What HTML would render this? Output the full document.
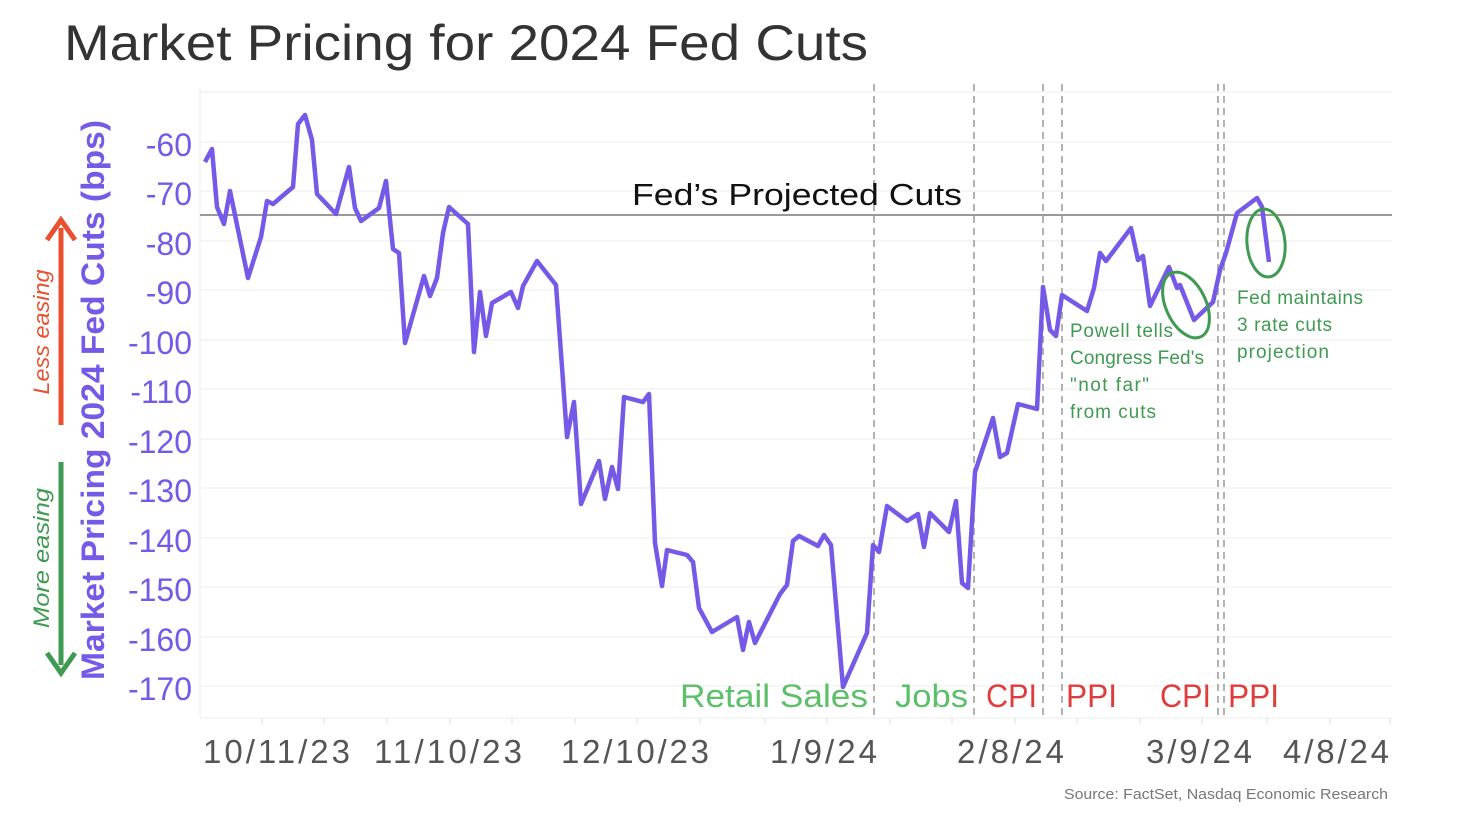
<!DOCTYPE html>
<html><head><meta charset="utf-8"><style>
body{margin:0;background:#fff;}
svg{display:block;font-family:"Liberation Sans",sans-serif;}
</style></head><body>
<svg width="1478" height="834" viewBox="0 0 1478 834">
<text x="64" y="60" font-size="50" fill="#333" textLength="804" lengthAdjust="spacingAndGlyphs">Market Pricing for 2024 Fed Cuts</text>
<g stroke="#f0f0f0" stroke-width="1.3">
<line x1="200" y1="92" x2="1392" y2="92"/><line x1="200" y1="142" x2="1392" y2="142"/><line x1="200" y1="191" x2="1392" y2="191"/><line x1="200" y1="241" x2="1392" y2="241"/><line x1="200" y1="290" x2="1392" y2="290"/><line x1="200" y1="340" x2="1392" y2="340"/><line x1="200" y1="389" x2="1392" y2="389"/><line x1="200" y1="439" x2="1392" y2="439"/><line x1="200" y1="488" x2="1392" y2="488"/><line x1="200" y1="538" x2="1392" y2="538"/><line x1="200" y1="587" x2="1392" y2="587"/><line x1="200" y1="637" x2="1392" y2="637"/><line x1="200" y1="686" x2="1392" y2="686"/><line x1="200" y1="718" x2="1392" y2="718"/>
<line x1="200" y1="88" x2="200" y2="718"/>
</g>
<g stroke="#ddd" stroke-width="1">
<line x1="262" y1="718" x2="262" y2="724"/><line x1="324" y1="718" x2="324" y2="724"/><line x1="387" y1="718" x2="387" y2="724"/><line x1="450" y1="718" x2="450" y2="724"/><line x1="512" y1="718" x2="512" y2="724"/><line x1="575" y1="718" x2="575" y2="724"/><line x1="637" y1="718" x2="637" y2="724"/><line x1="700" y1="718" x2="700" y2="724"/><line x1="765" y1="718" x2="765" y2="724"/><line x1="827" y1="718" x2="827" y2="724"/><line x1="890" y1="718" x2="890" y2="724"/><line x1="952" y1="718" x2="952" y2="724"/><line x1="1015" y1="718" x2="1015" y2="724"/><line x1="1077" y1="718" x2="1077" y2="724"/><line x1="1140" y1="718" x2="1140" y2="724"/><line x1="1202" y1="718" x2="1202" y2="724"/><line x1="1267" y1="718" x2="1267" y2="724"/><line x1="1330" y1="718" x2="1330" y2="724"/><line x1="1390" y1="718" x2="1390" y2="724"/>
</g>
<g stroke="#aaa" stroke-width="1.8" stroke-dasharray="7,5">
<line x1="874" y1="84" x2="874" y2="718"/><line x1="974" y1="84" x2="974" y2="718"/><line x1="1043" y1="84" x2="1043" y2="718"/><line x1="1062" y1="84" x2="1062" y2="718"/><line x1="1218" y1="84" x2="1218" y2="718"/><line x1="1224" y1="84" x2="1224" y2="718"/>
</g>
<line x1="200" y1="215" x2="1392" y2="215" stroke="#999" stroke-width="2"/>
<text x="632" y="205" font-size="31" fill="#111" textLength="330" lengthAdjust="spacingAndGlyphs">Fed’s Projected Cuts</text>
<polyline fill="none" stroke="#7659e6" stroke-width="4.5" stroke-linejoin="round" points="205,162 212,149 217,207 224,224 230,191 248,278 261,237 267,201 273,204 293,187 298,124 305,115 312,140 317,194 336,214 349,167 355,208 361,221 379,208 386,181 393,249 399,253 405,343 424,276 430,296 437,278 443,233 449,207 468,224 474,352 480,292 486,336 492,303 511,292 518,308 523,286 537,261 556,285 562,367 567,437 574,402 581,504 599,461 605,499 612,467 618,489 624,397 643,402 649,394 655,543 662,586 667,550 687,555 693,562 699,608 712,632 737,617 743,650 749,622 755,643 780,594 787,585 793,541 799,536 818,546 824,535 831,545 843,687 867,633 873,545 879,552 887,506 907,521 918,514 924,547 930,513 949,532 956,501 962,583 968,588 975,472 993,418 1000,457 1007,453 1018,404 1037,409 1043,287 1050,330 1056,336 1062,295 1087,311 1094,288 1100,253 1106,261 1131,228 1138,260 1143,256 1150,306 1169,267 1177,288 1180,285 1194,320 1213,302 1220,270 1226,253 1237,213 1257,198 1262,207 1269,262"/>
<ellipse cx="1186" cy="305" rx="20" ry="35" transform="rotate(-25 1186 305)" fill="none" stroke="#3f9a52" stroke-width="3"/>
<ellipse cx="1266" cy="243" rx="19" ry="34" transform="rotate(-5 1266 243)" fill="none" stroke="#3f9a52" stroke-width="3"/>
<g fill="#3f9a52" font-size="19" lengthAdjust="spacingAndGlyphs">
<text x="1070" y="337" textLength="103">Powell tells</text><text x="1070" y="364" textLength="134">Congress Fed's</text><text x="1070" y="391" textLength="79">"not far"</text><text x="1070" y="418" textLength="86">from cuts</text>
<text x="1237" y="304" textLength="126">Fed maintains</text><text x="1237" y="331" textLength="95">3 rate cuts</text><text x="1237" y="358" textLength="92">projection</text>
</g>
<g font-size="32">
<text x="680" y="707" fill="#5cbf6a" textLength="188" lengthAdjust="spacingAndGlyphs">Retail Sales</text>
<text x="895" y="707" fill="#5cbf6a" textLength="73" lengthAdjust="spacingAndGlyphs">Jobs</text>
<text x="986" y="707" fill="#e03c3c" textLength="51" lengthAdjust="spacingAndGlyphs">CPI</text>
<text x="1066" y="707" fill="#e03c3c" textLength="51" lengthAdjust="spacingAndGlyphs">PPI</text>
<text x="1160" y="707" fill="#e03c3c" textLength="51" lengthAdjust="spacingAndGlyphs">CPI</text>
<text x="1228" y="707" fill="#e03c3c" textLength="51" lengthAdjust="spacingAndGlyphs">PPI</text>
</g>
<g font-size="32" fill="#7659e6" text-anchor="end">
<text x="192" y="156">-60</text><text x="192" y="205">-70</text><text x="192" y="255">-80</text><text x="192" y="304">-90</text><text x="192" y="354">-100</text><text x="192" y="403">-110</text><text x="192" y="453">-120</text><text x="192" y="502">-130</text><text x="192" y="552">-140</text><text x="192" y="601">-150</text><text x="192" y="651">-160</text><text x="192" y="700">-170</text>
</g>
<text transform="translate(104,400) rotate(-90)" text-anchor="middle" font-size="32" font-weight="bold" fill="#7659e6" textLength="560" lengthAdjust="spacingAndGlyphs">Market Pricing 2024 Fed Cuts (bps)</text>
<text transform="translate(49,332) rotate(-90)" text-anchor="middle" font-size="22" font-style="italic" fill="#e8502f" textLength="125" lengthAdjust="spacingAndGlyphs">Less easing</text>
<text transform="translate(49,558) rotate(-90)" text-anchor="middle" font-size="22" font-style="italic" fill="#3f9a52" textLength="140" lengthAdjust="spacingAndGlyphs">More easing</text>
<line x1="61" y1="425" x2="61" y2="228" stroke="#e8502f" stroke-width="5"/>
<polyline points="47,240 61,220 75,240" fill="none" stroke="#e8502f" stroke-width="5"/>
<line x1="61" y1="462" x2="61" y2="665" stroke="#3f9a52" stroke-width="5"/>
<polyline points="47,653 61,673 75,653" fill="none" stroke="#3f9a52" stroke-width="5"/>
<g font-size="33" fill="#555" lengthAdjust="spacingAndGlyphs">
<text x="203" y="763" textLength="147">10/11/23</text><text x="374" y="763" textLength="148">11/10/23</text><text x="561" y="763" textLength="148">12/10/23</text><text x="770" y="763" textLength="107">1/9/24</text><text x="957" y="763" textLength="107">2/8/24</text><text x="1146" y="763" textLength="106">3/9/24</text><text x="1283" y="763" textLength="106">4/8/24</text>
</g>
<text x="1064" y="799" font-size="15" fill="#777" textLength="324" lengthAdjust="spacingAndGlyphs">Source: FactSet, Nasdaq Economic Research</text>
</svg>
</body></html>
